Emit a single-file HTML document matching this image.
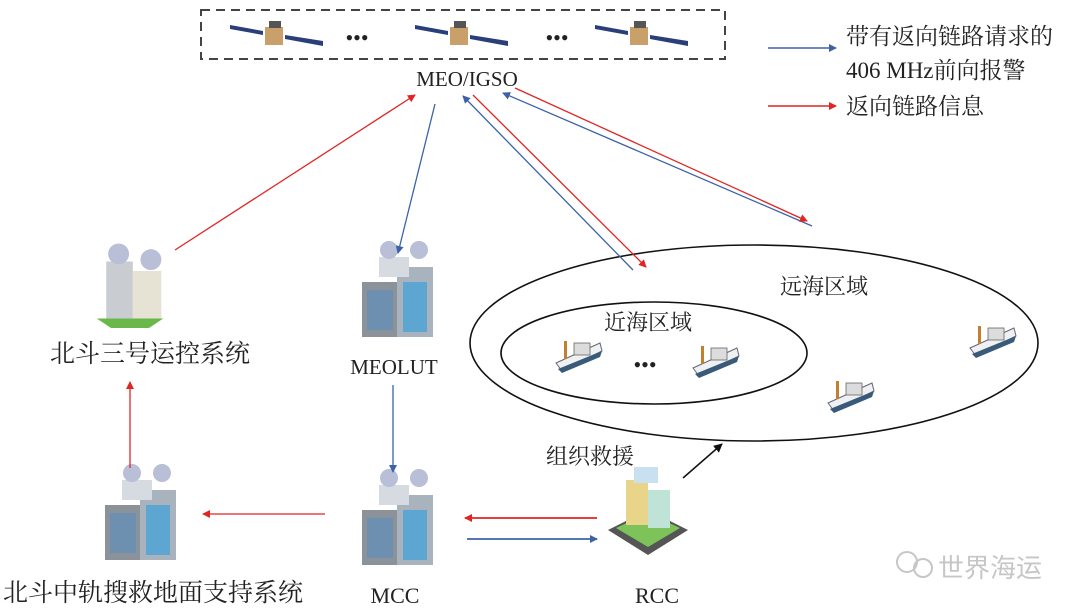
<!DOCTYPE html>
<html><head><meta charset="utf-8"><style>
html,body{margin:0;padding:0;background:#fff;width:1080px;height:613px;overflow:hidden}
svg{display:block}
.cn{font-family:"Liberation Serif","Noto Serif CJK SC","Noto Sans CJK SC",serif;fill:#222}
.en{font-family:"Liberation Serif",serif;fill:#222}
</style></head><body>
<svg width="1080" height="613" viewBox="0 0 1080 613" xmlns="http://www.w3.org/2000/svg">
<defs>
<marker id="ab" markerWidth="8" markerHeight="8" refX="7" refY="4" orient="auto" markerUnits="userSpaceOnUse"><path d="M0,0 L8,4 L0,8 z" fill="#3d62a8"/></marker>
<marker id="ar" markerWidth="8" markerHeight="8" refX="7" refY="4" orient="auto" markerUnits="userSpaceOnUse"><path d="M0,0 L8,4 L0,8 z" fill="#e02525"/></marker>
<marker id="ak" markerWidth="9" markerHeight="9" refX="8" refY="4.5" orient="auto" markerUnits="userSpaceOnUse"><path d="M0,0 L9,4.5 L0,9 z" fill="#111"/></marker>
<g id="sat">
<path d="M-45,-8 L-12,-2 L-12,2 L-45,-4 z" fill="#2a3f7a"/>
<path d="M10,2 L48,8 L48,13 L10,6 z" fill="#2a3f7a"/>
<rect x="-10" y="-6" width="18" height="18" fill="#c9a06a"/>
<rect x="-6" y="-12" width="12" height="7" fill="#555"/>
</g>
<g id="bld">
<rect x="-35" y="-20" width="36" height="55" fill="#8c9299"/>
<rect x="0" y="-35" width="36" height="70" fill="#a9b3bd"/>
<rect x="6" y="-20" width="24" height="50" fill="#4aa3d6" opacity="0.8"/>
<rect x="-30" y="-12" width="26" height="40" fill="#6d8fb0"/>
<rect x="-18" y="-45" width="30" height="20" fill="#d6dbe2"/>
<circle cx="-8" cy="-52" r="9" fill="#b8bfd6"/>
<circle cx="22" cy="-52" r="9" fill="#b8bfd6"/>
</g>
<g id="ship">
<path d="M-22,8 L22,-12 L24,-4 L-16,16 z" fill="#eef0f2" stroke="#667" stroke-width="1"/>
<path d="M-20,14 L24,-4 L22,2 L-16,18 z" fill="#3a5a7a"/>
<rect x="-4" y="-12" width="16" height="12" fill="#dcdcdc" stroke="#666" stroke-width="0.8"/>
<rect x="-14" y="-14" width="3" height="18" fill="#c08030"/>
</g>
</defs>

<rect x="201" y="10" width="524" height="49" fill="none" stroke="#444" stroke-width="2" stroke-dasharray="9,6"/>
<use href="#sat" x="275" y="33"/>
<use href="#sat" x="460" y="33"/>
<use href="#sat" x="640" y="33"/>
<text x="357" y="45" class="en" font-size="22" text-anchor="middle">•••</text>
<text x="557" y="45" class="en" font-size="22" text-anchor="middle">•••</text>
<text x="467" y="86" class="en" font-size="21" text-anchor="middle">MEO/IGSO</text>

<line x1="768" y1="48" x2="836" y2="48" stroke="#3d62a8" stroke-width="1.5" marker-end="url(#ab)"/>
<text x="846" y="44" class="cn" font-size="23">带有返向链路请求的</text>
<text x="846" y="78" class="cn" font-size="23">406 MHz前向报警</text>
<line x1="768" y1="106" x2="836" y2="106" stroke="#e02525" stroke-width="1.5" marker-end="url(#ar)"/>
<text x="846" y="114" class="cn" font-size="23">返向链路信息</text>

<ellipse cx="754" cy="343" rx="284" ry="98" fill="none" stroke="#111" stroke-width="1.6"/>
<ellipse cx="654" cy="353" rx="153" ry="51" fill="none" stroke="#111" stroke-width="1.6"/>
<text x="780" y="294" class="cn" font-size="22">远海区域</text>
<text x="604" y="330" class="cn" font-size="22">近海区域</text>
<text x="645" y="372" class="en" font-size="22" text-anchor="middle">•••</text>
<use href="#ship" x="578" y="355"/>
<use href="#ship" x="715" y="360"/>
<use href="#ship" x="850" y="395"/>
<use href="#ship" x="992" y="340"/>

<g transform="translate(130,290) scale(0.95)">
<rect x="-25" y="-30" width="28" height="60" fill="#c9cdd2"/>
<rect x="3" y="-20" width="30" height="50" fill="#e6e2d4"/>
<path d="M-35,30 L35,30 L20,40 L-20,40 z" fill="#6bb84a"/>
<circle cx="-12" cy="-38" r="11" fill="#b8bfd6"/>
<circle cx="22" cy="-32" r="11" fill="#b8bfd6"/>
</g>
<use href="#bld" x="397" y="302"/>
<use href="#bld" x="397" y="530"/>
<use href="#bld" x="140" y="525"/>
<g transform="translate(648,515)">
<path d="M-40,15 L0,-5 L40,15 L0,40 z" fill="#555"/>
<path d="M-32,13 L0,-2 L32,13 L0,32 z" fill="#7ec25a"/>
<rect x="-22" y="-35" width="22" height="45" fill="#e8d58a"/>
<rect x="0" y="-25" width="22" height="38" fill="#bfe3d6"/>
<rect x="-14" y="-48" width="24" height="16" fill="#c9e0f0"/>
</g>

<line x1="175" y1="250" x2="415" y2="95" stroke="#e02525" stroke-width="1.3" marker-end="url(#ar)"/>
<line x1="435" y1="104" x2="398" y2="253" stroke="#3d62a8" stroke-width="1.3" marker-end="url(#ab)"/>
<line x1="633" y1="270" x2="463" y2="96" stroke="#3d62a8" stroke-width="1.3" marker-end="url(#ab)"/>
<line x1="473" y1="95" x2="646" y2="267" stroke="#e02525" stroke-width="1.3" marker-end="url(#ar)"/>
<line x1="812" y1="226" x2="503" y2="93" stroke="#3d62a8" stroke-width="1.3" marker-end="url(#ab)"/>
<line x1="515" y1="88" x2="807" y2="221" stroke="#e02525" stroke-width="1.3" marker-end="url(#ar)"/>
<line x1="130" y1="468" x2="130" y2="382" stroke="#e02525" stroke-width="1.3" marker-end="url(#ar)"/>
<line x1="393" y1="385" x2="393" y2="472" stroke="#3d62a8" stroke-width="1.3" marker-end="url(#ab)"/>
<line x1="325" y1="514" x2="203" y2="514" stroke="#e02525" stroke-width="1.3" marker-end="url(#ar)"/>
<line x1="597" y1="518" x2="465" y2="518" stroke="#e02525" stroke-width="1.8" marker-end="url(#ar)"/>
<line x1="467" y1="539" x2="597" y2="539" stroke="#3d62a8" stroke-width="1.8" marker-end="url(#ab)"/>
<line x1="683" y1="478" x2="722" y2="444" stroke="#111" stroke-width="1.5" marker-end="url(#ak)"/>

<text x="150" y="362" class="cn" font-size="25" text-anchor="middle">北斗三号运控系统</text>
<text x="394" y="374" class="en" font-size="21" text-anchor="middle">MEOLUT</text>
<text x="590" y="464" class="cn" font-size="22" text-anchor="middle">组织救援</text>
<text x="153" y="601" class="cn" font-size="25" text-anchor="middle">北斗中轨搜救地面支持系统</text>
<text x="395" y="603" class="en" font-size="22" text-anchor="middle">MCC</text>
<text x="657" y="603" class="en" font-size="22" text-anchor="middle">RCC</text>

<g opacity="0.55">
<circle cx="907" cy="562" r="10" fill="none" stroke="#999" stroke-width="2"/>
<circle cx="923" cy="568" r="9" fill="none" stroke="#999" stroke-width="2"/>
<text x="938" y="577" font-family="Liberation Sans,'Noto Sans CJK SC',sans-serif" font-size="26" fill="#999">世界海运</text>
</g>
</svg>
</body></html>
